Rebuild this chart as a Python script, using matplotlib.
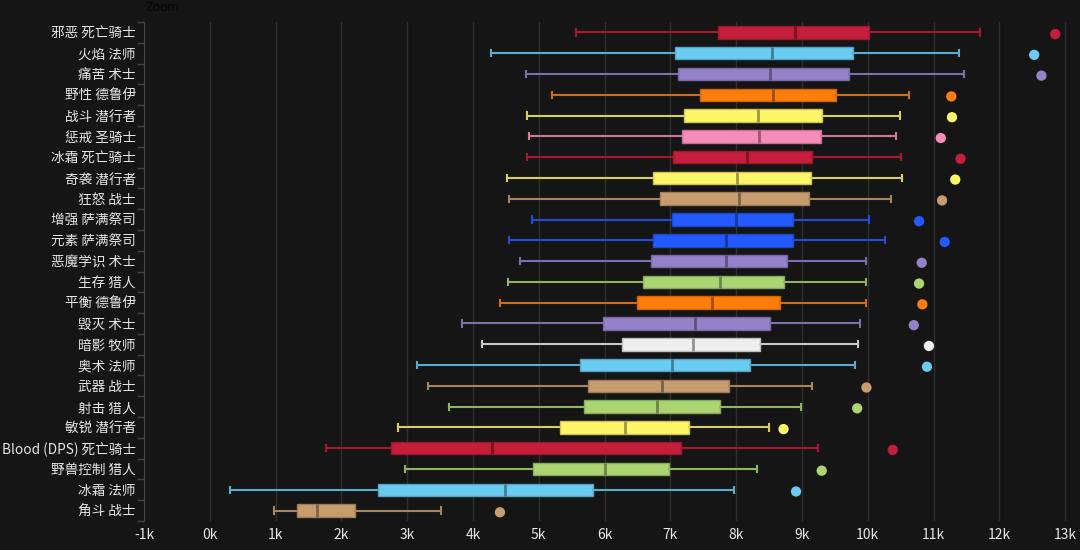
import matplotlib.pyplot as plt
import matplotlib.colors as mcolors
from matplotlib.ticker import FuncFormatter, FixedLocator
import numpy as np

plt.rcParams['font.family'] = ['Noto Sans CJK SC', 'DejaVu Sans']

# specs, top to bottom
specs = ['邪恶 死亡骑士', '火焰 法师', '痛苦 术士', '野性 德鲁伊', '战斗 潜行者', '惩戒 圣骑士',
         '冰霜 死亡骑士', '奇袭 潜行者', '狂怒 战士', '增强 萨满祭司', '元素 萨满祭司',
         '恶魔学识 术士', '生存 猎人', '平衡 德鲁伊', '毁灭 术士', '暗影 牧师', '奥术 法师',
         '武器 战士', '射击 猎人', '敏锐 潜行者', 'Blood (DPS) 死亡骑士', '野兽控制 猎人',
         '冰霜 法师', '角斗 战士']
classes = ['dk', 'mage', 'lock', 'druid', 'rogue', 'pala', 'dk', 'rogue', 'warrior', 'shaman',
           'shaman', 'lock', 'hunter', 'druid', 'lock', 'priest', 'mage', 'warrior', 'hunter',
           'rogue', 'dk', 'hunter', 'mage', 'warrior']

whislo = [5560, 4270, 4800, 5200, 4820, 4850, 4820, 4520, 4550, 4890, 4550, 4720, 4530, 4410,
          3840, 4140, 3150, 3320, 3630, 2860, 1770, 2960, 310, 970]
q1 = [7730, 7070, 7110, 7450, 7210, 7180, 7040, 6740, 6850, 7020, 6740, 6700, 6580, 6500,
      5980, 6270, 5620, 5750, 5680, 5320, 2760, 4910, 2560, 1320]
med = [8890, 8540, 8510, 8560, 8330, 8350, 8160, 8020, 8040, 8000, 7840, 7840, 7750, 7630,
       7380, 7350, 7020, 6880, 6800, 6310, 4290, 6010, 4480, 1630]
q3 = [10020, 9770, 9720, 9510, 9300, 9290, 9160, 9140, 9110, 8870, 8860, 8780, 8730, 8660,
      8520, 8370, 8210, 7890, 7760, 7290, 7160, 6980, 5820, 2200]
whishi = [11700, 11380, 11460, 10620, 10490, 10430, 10500, 10520, 10350, 10020, 10260, 9980,
          9970, 9980, 9880, 9850, 9800, 9150, 8990, 8500, 9240, 8310, 7970, 3510]
outlier = [12850, 12530, 12640, 11270, 11280, 11110, 11410, 11330, 11130, 10780, 11170, 10820,
           10780, 10830, 10700, 10930, 10900, 9980, 9840, 8720, 10380, 9300, 8910, 4410]

class_colors = {'dk': '#C41E3A', 'mage': '#69CCF0', 'lock': '#9482C9', 'druid': '#FF7D0A',
                'rogue': '#FFF569', 'pala': '#F58CBA', 'warrior': '#C79C6E', 'shaman': '#2459FF',
                'hunter': '#ABD473', 'priest': '#EEEEEE'}


def darker(c, f=0.72):
    r, g, b = mcolors.to_rgb(c)
    return (r * f, g * f, b * f)


BG = '#151515'
fig = plt.figure(figsize=(10.8, 5.5), dpi=100, facecolor=BG)
ax = fig.add_axes([144 / 1080, 1 - 521 / 550, 931 / 1080, 499 / 550])
ax.set_facecolor(BG)

positions = np.arange(len(specs))
stats = []
for i in range(len(specs)):
    stats.append({'whislo': whislo[i], 'q1': q1[i], 'med': med[i], 'q3': q3[i],
                  'whishi': whishi[i], 'fliers': []})

bp = ax.bxp(stats, positions=positions, orientation='horizontal', widths=0.6,
            capwidths=0.3, patch_artist=True, showfliers=False, zorder=3)

for i, cls in enumerate(classes):
    col = class_colors[cls]
    edge = darker(col, 0.8)
    bp['boxes'][i].set(facecolor=col, edgecolor=edge, linewidth=1.0)
    bp['medians'][i].set(color=darker(col, 0.62), linewidth=2.0)
    for w in bp['whiskers'][2 * i:2 * i + 2]:
        w.set(color=darker(col, 0.85), linewidth=1.5)
    for c in bp['caps'][2 * i:2 * i + 2]:
        c.set(color=darker(col, 0.85), linewidth=1.5)

ax.scatter(outlier, positions + 0.08, s=55, c=[class_colors[c] for c in classes],
           edgecolors='none', zorder=4)

ax.set_xlim(-1000, 13150)
ax.set_ylim(len(specs) - 0.5, -0.5)

ax.set_xticks(np.arange(-1000, 13001, 1000))
ax.xaxis.set_major_formatter(FuncFormatter(lambda v, p: f'{int(round(v / 1000))}k'))
ax.set_yticks(positions)
ax.set_yticklabels(specs)
ax.yaxis.set_minor_locator(FixedLocator(np.arange(-0.5, len(specs), 1.0)))

ax.tick_params(axis='x', length=0, colors='#e6e6e6', labelsize=10, pad=5)
ax.tick_params(axis='y', which='major', length=0, colors='#e6e6e6', labelsize=9.8, pad=6)
ax.tick_params(axis='y', which='minor', length=5, color='#444444', width=1)

ax.grid(axis='x', color='#2f2f2f', linewidth=1, zorder=0)
ax.set_axisbelow(True)
for side in ['top', 'right', 'bottom']:
    ax.spines[side].set_visible(False)
ax.spines['left'].set_color('#444444')

fig.text(145 / 1080, 1 - 1 / 550, 'Zoom', color='#050505', fontsize=9, va='top', ha='left')

fig.savefig('out.png', dpi=100, facecolor=BG)
